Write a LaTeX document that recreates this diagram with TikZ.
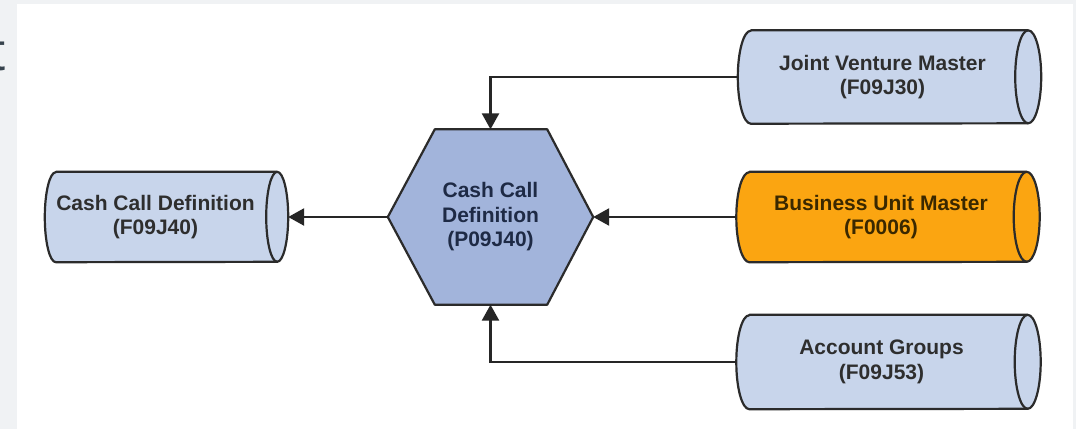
\documentclass[tikz,border=0pt]{standalone}
\usepackage{fontspec}
\setmainfont{Liberation Sans}
\usetikzlibrary{arrows.meta,calc}

\definecolor{pagegray}{HTML}{F0F2F4}
\definecolor{cylblue}{HTML}{C8D5EB}
\definecolor{hexblue}{HTML}{A2B4DB}
\definecolor{cylorange}{HTML}{FBA511}
\definecolor{edgegray}{HTML}{2B2B2B}
\definecolor{flowgray}{HTML}{262626}
\definecolor{inkgray}{HTML}{2E2E2E}
\definecolor{inknavy}{HTML}{1E2A45}
\definecolor{inkbrown}{HTML}{3A2800}
\definecolor{slate}{HTML}{37434D}

\tikzset{
  drum/.style={rectangle, draw=none, inner sep=0pt, minimum width=#1},
  hexbox/.style={rectangle, draw=none, inner sep=0pt, minimum width=205pt, minimum height=175pt},
  drumline/.style={draw=edgegray, line width=2.2pt, line join=round},
  flow/.style={draw=flowgray, line width=2.6pt, -{Triangle[length=16pt,width=17pt]}},
  tagtext/.style={align=center, inner sep=0pt,
    font=\fontsize{21}{24.5}\selectfont\bfseries},
}

% Horizontal drum (table symbol): node name, fill colour, end radius, half height
\newcommand\drawdrum[4]{%
  \path[drumline, fill=#2]
    ($(#1.north west)+(#3,0)$) -- ($(#1.north east)+(-#3,0)$)
    arc[start angle=90, end angle=-90, x radius=#3, y radius=#4]
    -- ($(#1.south west)+(#3,0)$)
    arc[start angle=270, end angle=90, x radius=#3, y radius=#4]
    -- cycle;
  \draw[drumline] ($(#1.north east)+(-#3,0)$)
    arc[start angle=90, end angle=270, x radius=#3, y radius=#4];
}

\begin{document}
\begin{tikzpicture}[x=1pt,y=1pt]
  \useasboundingbox (0,0) rectangle (1076,-429);
  \fill[pagegray] (0,0) rectangle (1076,-429);
  \fill[white] (17,-4) rectangle (1073,-429);

  % letter cut by the left margin
  \begin{scope}
    \clip (0,0) rectangle (17,-429);
    \node[anchor=base west, inner sep=0pt, text=slate,
          font=\fontsize{54}{60}\selectfont] (edgeletter) at (-10,-70) {t};
  \end{scope}

  % central program
  \node[hexbox] (prog) at (490.5,-217) {};
  \path[drumline, fill=hexblue]
    (prog.west) -- ($(prog.north west)+(47,0)$) -- ($(prog.north east)+(-46,0)$)
    -- (prog.east) -- ($(prog.south east)+(-46,0)$) -- ($(prog.south west)+(47,0)$)
    -- cycle;
  \node[tagtext, text=inknavy] (prog-text) at (prog.center)
    {Cash Call\\Definition\\(P09J40)};

  % output table
  \node[drum=243pt, minimum height=90pt] (ccdef) at (166.5,-217) {};
  \drawdrum{ccdef}{cylblue}{11}{45}
  \node[tagtext, text=inkgray] (ccdef-text) at ($(ccdef.center)+(-11,0)$)
    {Cash Call Definition\\(F09J40)};

  % input tables
  \node[drum=303pt, minimum height=93pt] (jvm) at (889.5,-77) {};
  \drawdrum{jvm}{cylblue}{13}{46.5}
  \node[tagtext, text=inkgray] (jvm-text) at ($(jvm.center)+(-7,0)$)
    {Joint Venture Master\\(F09J30)};

  \node[drum=303pt, minimum height=90pt] (bum) at (888,-217) {};
  \drawdrum{bum}{cylorange}{13}{45}
  \node[tagtext, text=inkbrown] (bum-text) at ($(bum.center)+(-7,0)$)
    {Business Unit Master\\(F0006)};

  \node[drum=304pt, minimum height=94pt] (acg) at (888.5,-362) {};
  \drawdrum{acg}{cylblue}{13}{47}
  \node[tagtext, text=inkgray] (acg-text) at ($(acg.center)+(-7,0)$)
    {Account Groups\\(F09J53)};

  % data flow
  \draw[flow] (jvm.west) -| (prog.north);
  \draw[flow] (acg.west) -| (prog.south);
  \draw[flow] (bum.west) -- (prog.east);
  \draw[flow] (prog.west) -- (ccdef.east);
\end{tikzpicture}
\end{document}
